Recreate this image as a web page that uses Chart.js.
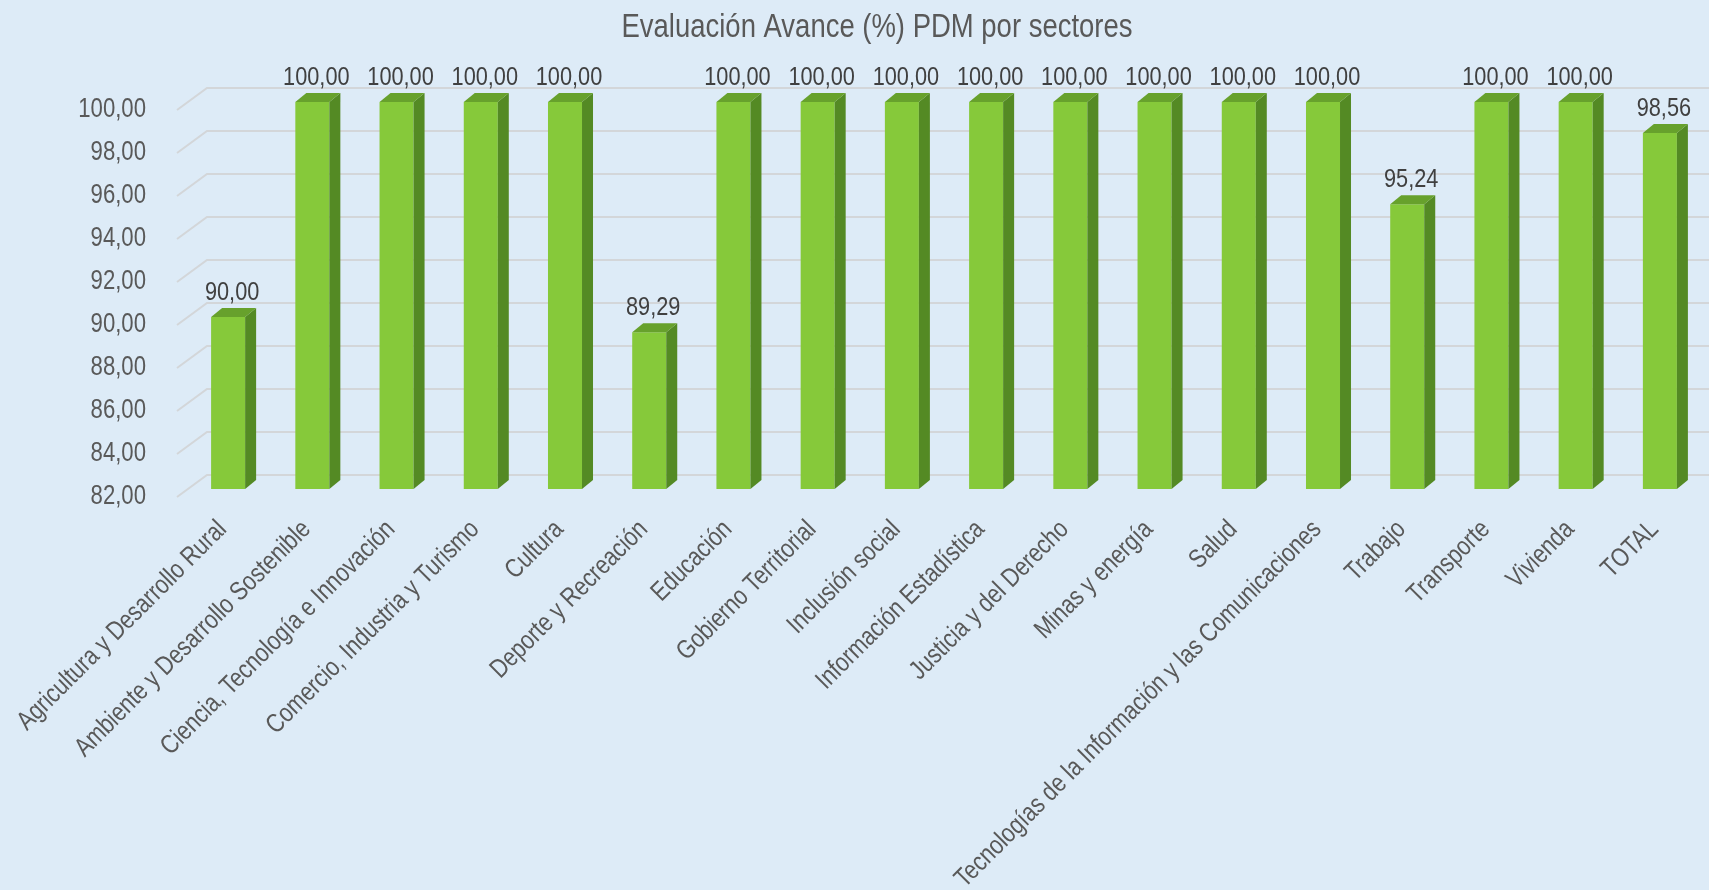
<!DOCTYPE html>
<html>
<head>
<meta charset="utf-8">
<script src="https://cdn.jsdelivr.net/npm/chart.js@4/dist/chart.umd.min.js"></script>
<style>
  html, body { margin: 0; padding: 0; background: #DDEBF7; }
  #wrap { width: 1709px; height: 890px; position: relative; }
</style>
</head>
<body>
<div id="wrap"><canvas id="c"></canvas></div>
<script>
const chartTitle = 'Evaluación Avance (%) PDM por sectores';
const categories = [
  'Agricultura y Desarrollo Rural',
  'Ambiente y Desarrollo Sostenible',
  'Ciencia, Tecnología e Innovación',
  'Comercio, Industria y Turismo',
  'Cultura',
  'Deporte y Recreación',
  'Educación',
  'Gobierno Territorial',
  'Inclusión social',
  'Información Estadística',
  'Justicia y del Derecho',
  'Minas y energía',
  'Salud',
  'Tecnologías de la Información y las Comunicaciones',
  'Trabajo',
  'Transporte',
  'Vivienda',
  'TOTAL'
];
const avance = [90.00, 100.00, 100.00, 100.00, 100.00, 89.29, 100.00, 100.00, 100.00, 100.00, 100.00, 100.00, 100.00, 100.00, 95.24, 100.00, 100.00, 98.56];
const yMin = 82;
const yMax = 100;
const yStep = 2;

const FONT = "'Liberation Sans', Arial, sans-serif";
const NARROW = 0.82; // horizontal compression to mimic a narrow typeface
const fmt = v => v.toFixed(2).replace('.', ',');

const BAR_DX = 11, BAR_DY = 9;
const WALL_FRONT_DX = -9, WALL_FRONT_DY = 8, WALL_BACK_DX = 21, WALL_BACK_DY = -14;

function narrowText(ctx, text, x, y, size, color, align, baseline, angle) {
  ctx.save();
  ctx.translate(x, y);
  if (angle) ctx.rotate(angle);
  ctx.scale(NARROW, 1);
  ctx.font = size + 'px ' + FONT;
  ctx.fillStyle = color;
  ctx.textAlign = align;
  ctx.textBaseline = baseline;
  ctx.fillText(text, 0, 0);
  ctx.restore();
}

const threeD = {
  id: 'threeD',
  beforeDraw(chart) {
    const ctx = chart.ctx;
    ctx.save();
    ctx.fillStyle = '#DDEBF7';
    ctx.fillRect(0, 0, chart.width, chart.height);
    ctx.restore();
    narrowText(ctx, chartTitle, 877, 28, 33.5, '#595959', 'center', 'middle', 0);
  },
  beforeDatasetsDraw(chart) {
    const ctx = chart.ctx;
    const ys = chart.scales.y;
    const xs = chart.scales.x;
    const left = chart.chartArea.left;
    ctx.save();
    ctx.strokeStyle = '#D3D6D9';
    ctx.lineWidth = 2;
    ys.ticks.forEach((t, i) => {
      const y = ys.getPixelForTick(i);
      ctx.beginPath();
      ctx.moveTo(left + WALL_FRONT_DX, y + WALL_FRONT_DY);
      ctx.lineTo(left + WALL_BACK_DX, y + WALL_BACK_DY);
      ctx.lineTo(chart.width, y + WALL_BACK_DY);
      ctx.stroke();
    });
    ctx.restore();
    // y tick labels
    ys.ticks.forEach((t, i) => {
      const y = ys.getPixelForTick(i);
      narrowText(ctx, fmt(t.value), left - 40, y + 8, 27, '#595959', 'right', 'middle', 0);
    });
    // x tick labels (rotated)
    const axisTop = chart.chartArea.bottom;
    xs.ticks.forEach((t, i) => {
      const x = xs.getPixelForTick(i);
      narrowText(ctx, categories[i], x - 15, axisTop + 27, 26.5, '#595959', 'right', 'top', -Math.PI / 4);
    });
  },
  afterDatasetsDraw(chart) {
    const ctx = chart.ctx;
    const meta = chart.getDatasetMeta(0);
    const bottom = chart.chartArea.bottom;
    meta.data.forEach((bar, i) => {
      const p = bar.getProps(['x', 'y', 'base', 'width'], true);
      const base = Math.min(p.base, bottom);
      const l = p.x - p.width / 2, r = p.x + p.width / 2;
      ctx.save();
      // side face
      ctx.fillStyle = '#548A24';
      ctx.beginPath();
      ctx.moveTo(r, p.y);
      ctx.lineTo(r + BAR_DX, p.y - BAR_DY);
      ctx.lineTo(r + BAR_DX, base - BAR_DY);
      ctx.lineTo(r, base);
      ctx.closePath();
      ctx.fill();
      // top face
      ctx.fillStyle = '#67A12C';
      ctx.beginPath();
      ctx.moveTo(l, p.y);
      ctx.lineTo(l + BAR_DX, p.y - BAR_DY);
      ctx.lineTo(r + BAR_DX, p.y - BAR_DY);
      ctx.lineTo(r, p.y);
      ctx.closePath();
      ctx.fill();
      ctx.restore();
      // value label
      narrowText(ctx, fmt(avance[i]), p.x + 4, p.y - BAR_DY - 8, 26.5, '#404040', 'center', 'alphabetic', 0);
    });
  }
};

new Chart(document.getElementById('c'), {
  type: 'bar',
  data: {
    labels: categories,
    datasets: [{
      data: avance,
      backgroundColor: '#86C93A',
      borderWidth: 0,
      barPercentage: 0.404,
      categoryPercentage: 1.0
    }]
  },
  options: {
    responsive: true,
    maintainAspectRatio: false,
    animation: false,
    layout: { padding: { top: 102, left: 46, right: 7, bottom: 0 } },
    plugins: {
      legend: { display: false },
      title: { display: false },
      tooltip: { enabled: false }
    },
    scales: {
      x: {
        grid: { display: false, drawTicks: false },
        border: { display: false },
        ticks: { display: false, autoSkip: false },
        afterFit(scale) { scale.height = 401; }
      },
      y: {
        min: yMin,
        max: yMax,
        grid: { display: false, drawTicks: false },
        border: { display: false },
        ticks: { display: false, stepSize: yStep },
        afterFit(scale) { scale.width = 140; }
      }
    }
  },
  plugins: [threeD]
});
</script>
</body>
</html>
